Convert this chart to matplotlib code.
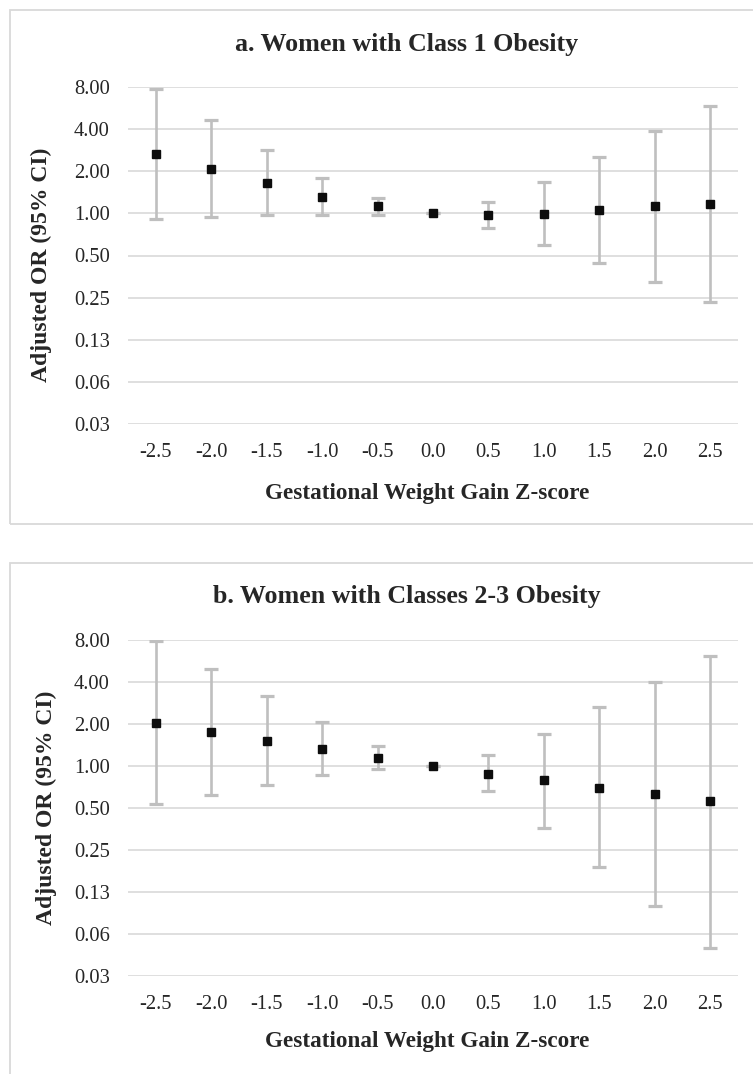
import numpy as np
import matplotlib
matplotlib.use("Agg")
import matplotlib.pyplot as plt
from matplotlib.patches import Rectangle

# ---------------- data ----------------
z_scores = [-2.5, -2.0, -1.5, -1.0, -0.5, 0.0, 0.5, 1.0, 1.5, 2.0, 2.5]
z_labels = ["-2.5", "-2.0", "-1.5", "-1.0", "-0.5", "0.0", "0.5", "1.0", "1.5", "2.0", "2.5"]

a_or = [2.65, 2.09, 1.65, 1.32, 1.12, 1.00, 0.97, 0.99, 1.05, 1.12, 1.17]
a_lo = [0.905, 0.936, 0.973, 0.978, 0.973, 1.00, 0.784, 0.594, 0.443, 0.322, 0.231]
a_hi = [7.78, 4.67, 2.82, 1.80, 1.29, 1.00, 1.21, 1.68, 2.54, 3.87, 5.86]

b_or = [2.03, 1.76, 1.52, 1.32, 1.15, 1.00, 0.88, 0.79, 0.70, 0.63, 0.56]
b_lo = [0.531, 0.621, 0.735, 0.855, 0.946, 1.00, 0.664, 0.36, 0.19, 0.10, 0.05]
b_hi = [7.83, 4.97, 3.19, 2.06, 1.40, 1.00, 1.20, 1.69, 2.64, 4.02, 6.19]

y_ticks = [0.03125, 0.0625, 0.125, 0.25, 0.5, 1.0, 2.0, 4.0, 8.0]
y_labels = ["0.03", "0.06", "0.13", "0.25", "0.50", "1.00", "2.00", "4.00", "8.00"]

titles = ["a. Women with Class 1 Obesity", "b. Women with Classes 2-3 Obesity"]
xlabel = "Gestational Weight Gain Z-score"
ylabel = "Adjusted OR (95% CI)"

# ---------------- layout ----------------
W, H = 753, 1074
plt.rcParams['font.family'] = ['Liberation Serif', 'DejaVu Serif']
fig = plt.figure(figsize=(W / 100, H / 100), dpi=100)

def fx(px):
    return px / W

def fy(py):
    return 1 - py / H

# panel boxes (top px, bottom px)
boxes = [(10, 524), (563, 1090)]
for top, bot in boxes:
    fig.patches.append(Rectangle((fx(10), fy(bot)), fx(820 - 10), (bot - top) / H,
                                 transform=fig.transFigure, fill=False,
                                 edgecolor="#D9D9D9", linewidth=1.3))

panels = [
    dict(top=87, bot=424, title_y=45, ylab_x=52, ylab_y=265, xlab_y=493,
         orv=a_or, lo=a_lo, hi=a_hi, title=titles[0]),
    dict(top=640, bot=976, title_y=597, ylab_x=57, ylab_y=808, xlab_y=1041,
         orv=b_or, lo=b_lo, hi=b_hi, title=titles[1]),
]

left, right = 128, 738
for p in panels:
    ax = fig.add_axes([fx(left), fy(p['bot']), (right - left) / W, (p['bot'] - p['top']) / H])
    orv = np.array(p['orv'])
    lo = np.array(p['lo'])
    hi = np.array(p['hi'])
    yerr = np.vstack([orv - lo, hi - orv])
    ax.errorbar(z_scores, orv, yerr=yerr, fmt='s', color='#0D0D0D', markersize=6.3,
                ecolor='#BFBFBF', elinewidth=1.9, capsize=4.8, capthick=2.3, zorder=3)
    ax.set_yscale('log', base=2)
    ax.set_ylim(y_ticks[0], y_ticks[-1])
    ax.set_xlim(-2.75, 2.75)
    ax.set_yticks(y_ticks)
    ax.set_yticklabels(y_labels)
    ax.minorticks_off()
    ax.set_xticks(z_scores)
    ax.set_xticklabels(z_labels)
    ax.tick_params(axis='both', length=0, labelsize=14.8, colors='#262626')
    ax.tick_params(axis='y', pad=13)
    ax.tick_params(axis='x', pad=14)
    ax.grid(axis='y', color='#D9D9D9', linewidth=1.2, zorder=0)
    ax.set_axisbelow(True)
    for s in ax.spines.values():
        s.set_visible(False)
    hpx = p['bot'] - p['top']
    ax.set_xlabel(xlabel, fontsize=16.7, fontweight='bold', color='#262626')
    ax.xaxis.set_label_coords((427 - left) / (right - left), -(p['xlab_y'] - p['bot']) / hpx)
    ax.xaxis.label.set_va('center')
    ax.set_ylabel(ylabel, fontsize=17, fontweight='bold', color='#262626')
    ax.yaxis.set_label_coords((p['ylab_x'] - left) / (right - left),
                              (p['bot'] - p['ylab_y']) / hpx)
    fig.text(fx(407), fy(p['title_y']), p['title'], ha='center', va='center',
             fontsize=18.7, fontweight='bold', color='#262626')

fig.savefig('out.png', dpi=100)
